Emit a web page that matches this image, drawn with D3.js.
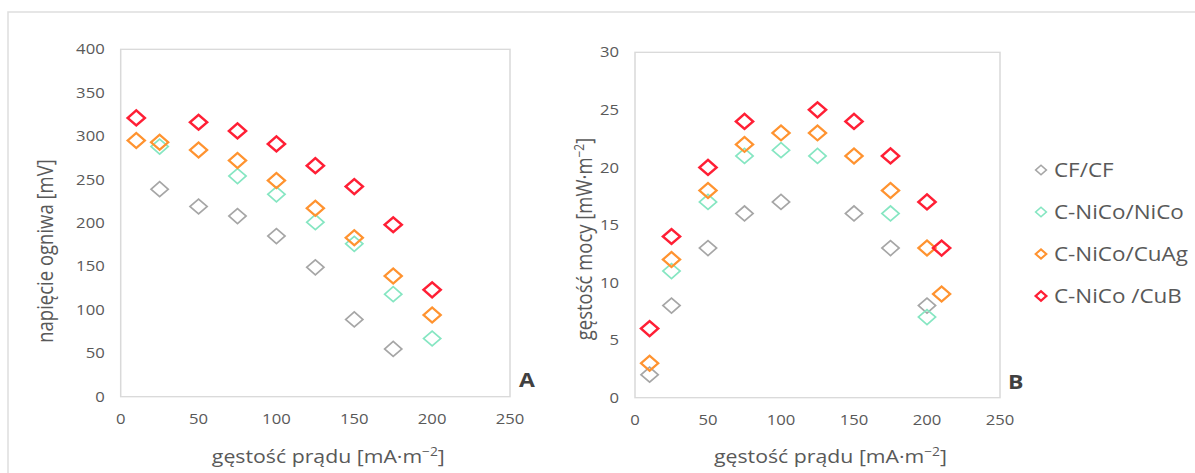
<!DOCTYPE html>
<html lang="pl">
<head>
<meta charset="UTF-8">
<title>Ogniwo - napięcie i gęstość mocy</title>
<script src="https://d3js.org/d3.v7.min.js"></script>
<style>
  html, body { margin: 0; padding: 0; background: #fff; overflow: hidden; }
  svg text { font-family: "Open Sans", "Liberation Sans", sans-serif; fill: #595959; }
</style>
</head>
<body>
<svg id="chart" width="1195" height="473"></svg>
<script>
// ---- data ----
const seriesNames = ["CF/CF", "C-NiCo/NiCo", "C-NiCo/CuAg", "C-NiCo /CuB"];
const seriesColors = ["#a6a6a6", "#86e6c2", "#ff9330", "#ff1f35"];
const seriesStroke = [1.6, 1.6, 2.1, 2.3];

// panel A: cell voltage [mV]
const currentA = [10, 25, 50, 75, 100, 125, 150, 175, 200];
const voltCF   = [null, 239, 219, 208, 185, 149, 89, 55, null];
const voltNiCo = [null, 288, null, 254, 233, 201, 176, 118, 67];
const voltCuAg = [295, 293, 284, 272, 249, 217, 183, 139, 94];
const voltCuB  = [321, null, 316, 306, 291, 266, 242, 198, 123];

// panel B: power density [mW·m-2]
const currentB = [10, 25, 50, 75, 100, 125, 150, 175, 200, 210];
const powCF    = [2, 8, 13, 16, 17, null, 16, 13, 8, null];
const powNiCo  = [null, 11, 17, 21, 21.5, 21, null, 16, 7, null];
const powCuAg  = [3, 12, 18, 22, 23, 23, 21, 18, 13, 9];
const powCuB   = [6, 14, 20, 24, null, 25, 24, 21, 17, 13];

const xTicks = [0, 50, 100, 150, 200, 250];
const yTicksA = [0, 50, 100, 150, 200, 250, 300, 350, 400];
const yTicksB = [0, 5, 10, 15, 20, 25, 30];

// the source picture is slightly stretched sideways, so draw in a narrower
// coordinate system and stretch it back
const SX = 1.15;
const svg = d3.select("#chart");

svg.append("rect")
    .attr("x", 8).attr("y", 12)
    .attr("width", 1200).attr("height", 480)
    .attr("fill", "#fff")
    .attr("stroke", "#dedede").attr("stroke-width", 1.5);

const root = svg.append("g").attr("transform", `scale(${SX},1)`);

const diamond = d3.symbol().type(d3.symbolSquare).size(112);
const legendDiamond = d3.symbol().type(d3.symbolSquare).size(44);

function panel(cfg) {
    const x = d3.scaleLinear().domain([0, 250]).range([cfg.left / SX, cfg.right / SX]);
    const y = d3.scaleLinear().domain(cfg.yDomain).range([cfg.bottom, cfg.top]);
    const g = root.append("g");

    g.append("rect")
        .attr("x", x(0)).attr("y", y(cfg.yDomain[1]))
        .attr("width", x(250) - x(0)).attr("height", y(cfg.yDomain[0]) - y(cfg.yDomain[1]))
        .attr("fill", "none").attr("stroke", "#d9d9d9").attr("stroke-width", 1.3);

    g.selectAll(".ytick").data(cfg.yTicks).join("text")
        .attr("x", x(0) - 16 / SX)
        .attr("y", d => y(d))
        .attr("dy", "0.35em")
        .attr("text-anchor", "end")
        .style("font-size", "14.5px")
        .text(d => d);

    g.selectAll(".xtick").data(xTicks).join("text")
        .attr("x", d => x(d))
        .attr("y", cfg.bottom + 22)
        .attr("dy", "0.35em")
        .attr("text-anchor", "middle")
        .style("font-size", "14.5px")
        .text(d => d);

    const xt = g.append("text")
        .attr("x", (x(0) + x(250)) / 2 + 13 / SX)
        .attr("y", 463)
        .attr("text-anchor", "middle")
        .style("font-size", "18.5px")
        .text("gęstość prądu [mA·m");
    xt.append("tspan").attr("dy", -7).style("font-size", "12px").text("−2");
    xt.append("tspan").attr("dy", 7).text("]");

    const yt = g.append("text")
        .attr("transform", `translate(${cfg.titleX / SX},${cfg.titleY}) rotate(-90)`)
        .attr("text-anchor", "middle")
        .style("font-size", "18.5px")
        .text(cfg.yTitle);
    if (cfg.yTitleSup) {
        yt.append("tspan").attr("dy", -7).style("font-size", "12px").text(cfg.yTitleSup);
        yt.append("tspan").attr("dy", 7).text("]");
    }

    g.append("text")
        .attr("x", cfg.letterX / SX).attr("y", cfg.letterY)
        .attr("dy", "0.35em")
        .style("font-size", "20px").style("font-weight", "bold")
        .style("fill", "#404040")
        .text(cfg.letter);

    cfg.series.forEach((vals, i) => {
        const pts = cfg.xs.map((c, j) => ({ c: c, v: vals[j] })).filter(d => d.v !== null);
        g.append("g").selectAll("path").data(pts).join("path")
            .attr("d", diamond)
            .attr("transform", d => `translate(${x(d.c)},${y(d.v)}) rotate(45)`)
            .attr("fill", "none")
            .attr("stroke", seriesColors[i])
            .attr("stroke-width", seriesStroke[i]);
    });
}

panel({
    left: 120.7, right: 510, top: 49.3, bottom: 396.7,
    yDomain: [0, 400], yTicks: yTicksA,
    xs: currentA, series: [voltCF, voltNiCo, voltCuAg, voltCuB],
    yTitle: "napięcie ogniwa [mV]", titleX: 53, titleY: 251,
    letter: "A", letterX: 519, letterY: 380
});

panel({
    left: 635, right: 1000, top: 52.3, bottom: 397.7,
    yDomain: [0, 30], yTicks: yTicksB,
    xs: currentB, series: [powCF, powNiCo, powCuAg, powCuB],
    yTitle: "gęstość mocy [mW·m", yTitleSup: "−2", titleX: 592, titleY: 239,
    letter: "B", letterX: 1008, letterY: 382
});

// legend
const legendY = d3.scalePoint().domain(seriesNames).range([170, 296]);
const leg = root.append("g");
seriesNames.forEach((name, i) => {
    leg.append("path")
        .attr("d", legendDiamond)
        .attr("transform", `translate(${1041 / SX},${legendY(name)}) rotate(45)`)
        .attr("fill", "none")
        .attr("stroke", seriesColors[i])
        .attr("stroke-width", seriesStroke[i] * 0.9);
    leg.append("text")
        .attr("x", 1054 / SX)
        .attr("y", legendY(name))
        .attr("dy", "0.35em")
        .style("font-size", "19.5px")
        .text(name);
});
</script>
</body>
</html>
